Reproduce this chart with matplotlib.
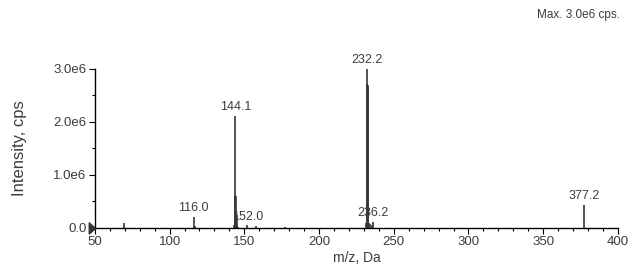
import numpy as np
import matplotlib
matplotlib.use('Agg')
import matplotlib.pyplot as plt
from matplotlib.ticker import MultipleLocator, FuncFormatter

# spectrum peaks (m/z in Da, intensity in cps)
mz = [69.6, 116.0, 117.0, 143.1, 143.6, 143.9, 144.1, 144.4, 144.8, 145.1,
      146.0, 152.0, 158.0, 177.0, 231.7, 232.0, 232.2, 232.5, 232.9, 233.2,
      234.2, 235.6, 236.2, 377.2]
intensity = [0.09e6, 0.21e6, 0.03e6, 0.06e6, 0.30e6, 0.62e6, 2.11e6, 0.60e6, 0.25e6, 0.06e6,
             0.02e6, 0.05e6, 0.03e6, 0.02e6, 0.10e6, 2.72e6, 3.00e6, 2.70e6, 2.65e6, 0.10e6,
             0.08e6, 0.06e6, 0.11e6, 0.43e6]

# labelled peaks
label_mz = [116.0, 144.1, 152.0, 232.2, 236.2, 377.2]
label_y = [0.21e6, 2.11e6, 0.05e6, 3.00e6, 0.11e6, 0.43e6]

plt.rcParams['font.family'] = ['Liberation Sans', 'DejaVu Sans']
txt = '#3c3c3c'

fig = plt.figure(figsize=(6.41, 2.66), dpi=100)
ax = fig.add_axes([0.148, 0.143, 0.816, 0.598])

ax.vlines(mz, 0, intensity, color='#383838', linewidth=1.2)

for x, y in zip(label_mz, label_y):
    ax.annotate(f'{x:.1f}', xy=(x, y), xytext=(0, 2), textcoords='offset points',
                ha='center', va='bottom', fontsize=9, color=txt, clip_on=False)

ax.set_xlim(50, 400)
ax.set_ylim(0, 3.0e6)
ax.xaxis.set_major_locator(MultipleLocator(50))
ax.xaxis.set_minor_locator(MultipleLocator(10))
ax.yaxis.set_major_locator(MultipleLocator(1.0e6))
ax.yaxis.set_minor_locator(MultipleLocator(0.5e6))
ax.yaxis.set_major_formatter(FuncFormatter(lambda v, p: '0.0' if v == 0 else f'{v / 1e6:.1f}e6'))

for s in ['top', 'right']:
    ax.spines[s].set_visible(False)
for s in ['left', 'bottom']:
    ax.spines[s].set_linewidth(1.0)
    ax.spines[s].set_color('black')

ax.tick_params(axis='both', which='major', labelsize=9.5, labelcolor=txt, length=4, width=0.8, pad=2)
ax.tick_params(axis='both', which='minor', length=2.5, width=0.8)

# origin marker, tip on the y axis
tri = [(-1, -0.9), (0, 0), (-1, 0.9), (-1, -0.9)]
ax.plot([50], [0], marker=tri, markersize=9, color='#333333', clip_on=False, zorder=5)

ax.set_xlabel('m/z, Da', fontsize=10, color=txt, labelpad=2)
ax.set_ylabel('Intensity, cps', fontsize=12, color=txt)
ax.yaxis.set_label_coords(-0.13, 0.5)

fig.text(0.967, 0.945, 'Max. 3.0e6 cps.', ha='right', va='center', fontsize=8.5, color=txt)

fig.savefig('out.png', dpi=100)
